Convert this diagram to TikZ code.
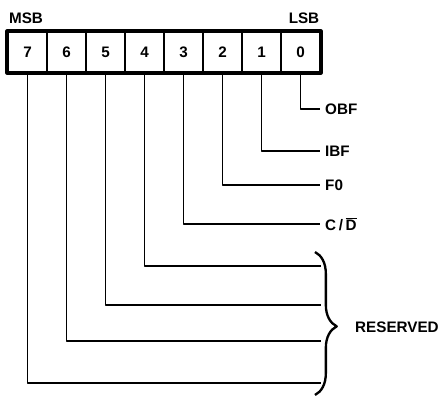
\documentclass[tikz,border=0pt]{standalone}
\usepackage{fontspec}
\setmainfont{Liberation Sans}
\usetikzlibrary{decorations.pathreplacing}

\tikzset{
  regfont/.style={font=\bfseries\fontsize{13}{15}\selectfont},
  bitcell/.style={draw,line width=1.4pt,minimum width=1.17cm,minimum height=1.2cm,inner sep=0pt,regfont},
  flaglabel/.style={anchor=west,inner sep=1.5mm,regfont},
  wire/.style={line width=1.4pt},
}

\begin{document}
\begin{tikzpicture}[x=0.03cm,y=-0.03cm,line join=round]
\useasboundingbox (0,0) rectangle (443,397);
% status register, MSB on the left
\node[bitcell] (b7) at (27.5,52) {7};
\node[bitcell] (b6) at (66.5,52) {6};
\node[bitcell] (b5) at (105.5,52) {5};
\node[bitcell] (b4) at (144.5,52) {4};
\node[bitcell] (b3) at (183.5,52) {3};
\node[bitcell] (b2) at (222.5,52) {2};
\node[bitcell] (b1) at (261.5,52) {1};
\node[bitcell] (b0) at (300.5,52) {0};
\draw[line width=3pt] (b7.north west) rectangle (b0.south east);
\node[regfont] (msb) at (26,18) {MSB};
\node[regfont] (lsb) at (304,18) {LSB};
% flag names
\node[flaglabel] (obf) at (320,109) {OBF};
\node[flaglabel] (ibf) at (320,151) {IBF};
\node[flaglabel] (fz) at (320,185) {F0};
\node[flaglabel] (cd) at (320,224) {C\,/\,$\overline{\mbox{D}}$};
\draw[wire] (b0.south) |- (obf.west);
\draw[wire] (b1.south) |- (ibf.west);
\draw[wire] (b2.south) |- (fz.west);
\draw[wire] (b3.south) |- (cd.west);
% unused bits
\coordinate (r4) at (321,266);
\coordinate (r5) at (321,305);
\coordinate (r6) at (321,341);
\coordinate (r7) at (321,383);
\draw[wire] (b4.south) |- (r4);
\draw[wire] (b5.south) |- (r5);
\draw[wire] (b6.south) |- (r6);
\draw[wire] (b7.south) |- (r7);
\coordinate (bt) at (315,252);
\coordinate (bb) at (315,395);
\draw[line width=2pt,decorate,decoration={brace,amplitude=0.65cm,aspect=0.52}] (bt) -- (bb);
\node[flaglabel] (rsv) at (350,327) {RESERVED};
\end{tikzpicture}
\end{document}
